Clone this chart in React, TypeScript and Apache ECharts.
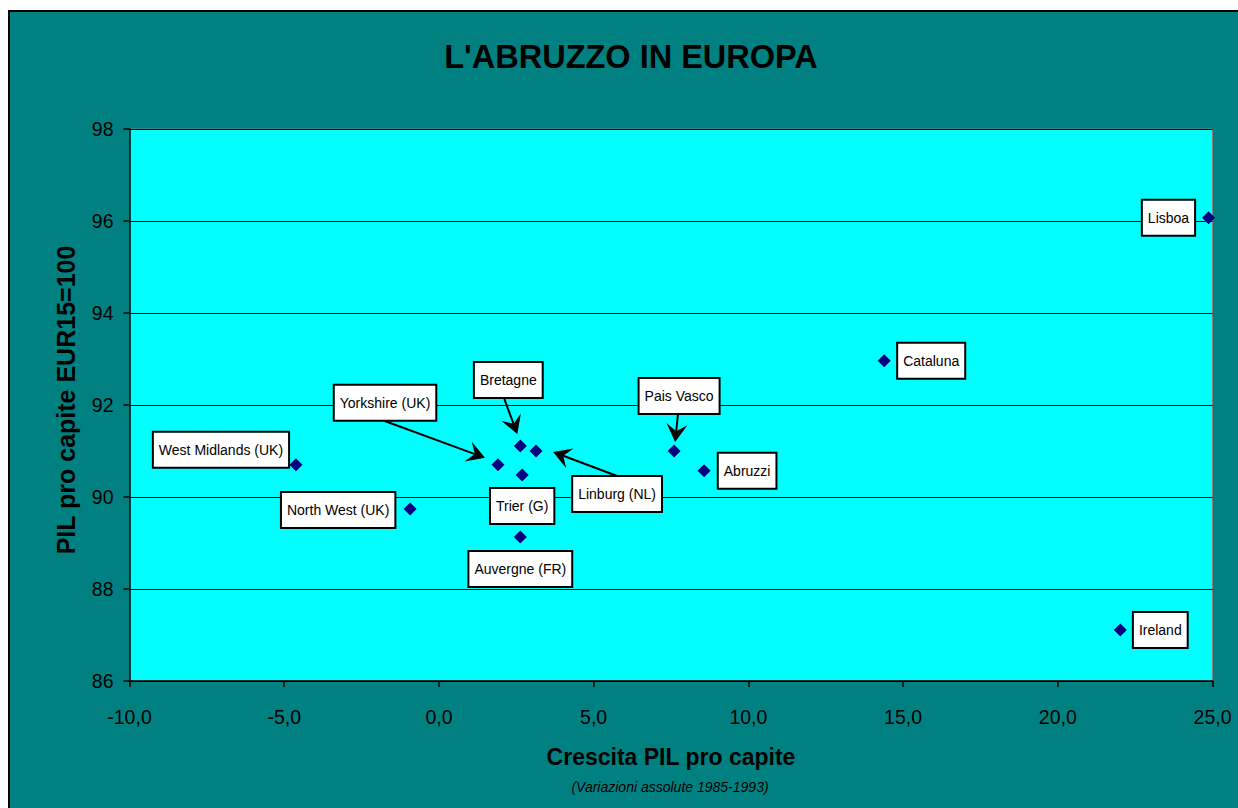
import React, { useEffect, useRef } from 'react';
import * as echarts from 'echarts';

const regions = ['West Midlands (UK)', 'North West (UK)', 'Yorkshire (UK)', 'Bretagne', 'Linburg (NL)', 'Trier (G)', 'Auvergne (FR)', 'Pais Vasco', 'Abruzzi', 'Cataluna', 'Lisboa', 'Ireland'];
const growth = [-4.62, -0.93, 1.91, 2.63, 3.14, 2.69, 2.63, 7.6, 8.57, 14.39, 24.87, 22.02];
const gdpIndex = [90.7, 89.74, 90.7, 91.11, 91.0, 90.48, 89.13, 91.0, 90.57, 92.96, 96.07, 87.11];
const xTicks = [-10, -5, 0, 5, 10, 15, 20, 25];
const yTicks = [86, 88, 90, 92, 94, 96, 98];

const titleText = "L'ABRUZZO IN EUROPA";
const xAxisTitle = 'Crescita PIL pro capite';
const xAxisSubtitle = '(Variazioni assolute 1985-1993)';
const yAxisTitle = 'PIL pro capite EUR15=100';

// label box offsets (pixels, relative to the point)
const labelOffsets: number[][] = [[-75, -15], [-72, 1], [-113, -62], [-12, -66], [81, 43], [0, 31], [0, 32], [5, -55], [43, 0], [47, 0], [-40, 0], [40, 0]];
// arrows: index of region, start & tip offsets in pixels relative to the point
const arrowLinks = [
  { idx: 2, start: [-114, -44], tip: [-13, -7] },
  { idx: 3, start: [-16, -47], tip: [-3, -12] },
  { idx: 4, start: [81, 25], tip: [17, 1] },
  { idx: 7, start: [4, -38], tip: [1, -9] },
];

const FONT = '"Liberation Sans", Arial, sans-serif';

export default function App() {
  const ref = useRef<HTMLDivElement>(null);
  useEffect(() => {
    if (!ref.current) return;
    const chart = echarts.init(ref.current, null, { renderer: 'svg' });
    const data = regions.map((name, i) => ({
      name,
      value: [growth[i], gdpIndex[i]],
      label: { offset: labelOffsets[i] },
    }));
    const baseGraphic: any[] = [
      {
        type: 'rect', z: -100, silent: true,
        shape: { x: 9, y: 11, width: 1300, height: 900 },
        style: { fill: '#008080', stroke: '#000', lineWidth: 2 },
      },
    ];
    const option: any = {
      animation: false,
      backgroundColor: '#ffffff',
      textStyle: { fontFamily: FONT },
      title: [
        {
          text: titleText, left: 631, top: 41, textAlign: 'center', padding: 0,
          textStyle: { fontFamily: FONT, fontSize: 32.5, fontWeight: 'bold', color: '#000', lineHeight: 32 },
        },
        {
          text: xAxisSubtitle, left: 670, top: 780, textAlign: 'center', padding: 0,
          textStyle: { fontFamily: FONT, fontSize: 14, fontStyle: 'italic', fontWeight: 'normal', color: '#000', lineHeight: 14 },
        },
      ],
      grid: {
        left: 129.5, top: 129, right: 25.5, bottom: 127,
        show: true, backgroundColor: '#00FFFF', borderColor: '#808080', borderWidth: 1,
      },
      xAxis: {
        type: 'value', min: xTicks[0], max: xTicks[xTicks.length - 1], interval: 5,
        name: xAxisTitle, nameLocation: 'middle', nameGap: 64,
        nameTextStyle: { fontFamily: FONT, fontSize: 23, fontWeight: 'bold', color: '#000' },
        axisLine: { show: true, onZero: false, lineStyle: { color: '#000', width: 1.5 } },
        axisTick: { show: true, length: 6, lineStyle: { color: '#000', width: 1.5 } },
        axisLabel: {
          margin: 26, fontSize: 19.5, color: '#000', fontFamily: FONT,
          formatter: (v: number) => v.toFixed(1).replace('.', ','),
        },
        splitLine: { show: false },
      },
      yAxis: {
        type: 'value', min: yTicks[0], max: yTicks[yTicks.length - 1], interval: 2,
        name: yAxisTitle, nameLocation: 'middle', nameGap: 51, nameRotate: 90,
        nameTextStyle: { fontFamily: FONT, fontSize: 25, fontWeight: 'bold', color: '#000', padding: [0, 0, 0, 10] },
        axisLine: { show: true, onZero: false, lineStyle: { color: '#000', width: 1.5 } },
        axisTick: { show: true, length: 6, lineStyle: { color: '#000', width: 1.5 } },
        axisLabel: { margin: 16, fontSize: 19.5, color: '#000', fontFamily: FONT },
        splitLine: { show: true, lineStyle: { color: '#000', width: 1 } },
      },
      graphic: baseGraphic,
      series: [
        {
          type: 'scatter',
          symbol: 'diamond',
          symbolSize: 13,
          itemStyle: { color: '#000080', opacity: 1 },
          emphasis: { disabled: true },
          label: {
            show: true, position: 'inside', formatter: '{b}',
            fontFamily: FONT, fontSize: 14, color: '#000', lineHeight: 14,
            textBorderWidth: 0, textBorderColor: 'transparent', opacity: 1,
            backgroundColor: '#ffffff', borderColor: '#000', borderWidth: 2,
            padding: [10, 5],
          },
          data,
        },
      ],
    };
    chart.setOption(option);

    const arrows: any[] = [];
    arrowLinks.forEach((a) => {
      const p = chart.convertToPixel({ seriesIndex: 0 }, [growth[a.idx], gdpIndex[a.idx]]) as number[];
      const sx = p[0] + a.start[0], sy = p[1] + a.start[1];
      const tx = p[0] + a.tip[0], ty = p[1] + a.tip[1];
      const dx = tx - sx, dy = ty - sy;
      const len = Math.sqrt(dx * dx + dy * dy);
      const ux = dx / len, uy = dy / len;
      const nx = -uy, ny = ux;
      const L = 18, W = 10.5;
      const bx = tx - ux * L, by = ty - uy * L;
      const notchX = tx - ux * L * 0.6, notchY = ty - uy * L * 0.6;
      arrows.push({
        type: 'line', z: 50, silent: true,
        shape: { x1: sx, y1: sy, x2: notchX, y2: notchY },
        style: { stroke: '#000', lineWidth: 2 },
      });
      arrows.push({
        type: 'polygon', z: 50, silent: true,
        shape: { points: [[tx, ty], [bx + nx * W, by + ny * W], [notchX, notchY], [bx - nx * W, by - ny * W]] },
        style: { fill: '#000' },
      });
    });
    chart.setOption({ graphic: baseGraphic.concat(arrows) });

    return () => chart.dispose();
  }, []);
  return (
    <div
      ref={ref}
      style={{ position: 'fixed', left: 0, top: 0, width: 1238, height: 808, overflow: 'hidden' }}
    />
  );
}
